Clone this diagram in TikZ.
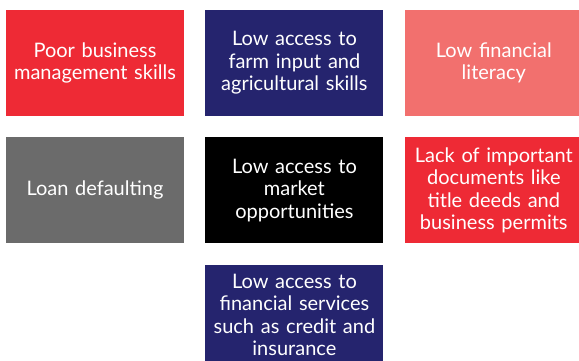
\documentclass[tikz,border=0pt]{standalone}
\usepackage{fontspec}
\setmainfont{Lato}
\usetikzlibrary{positioning}
\definecolor{cred}{HTML}{EE2A35}
\definecolor{cnavy}{HTML}{25246E}
\definecolor{csalmon}{HTML}{F2706E}
\definecolor{cgrey}{HTML}{6B6B6B}

\begin{document}
\begin{tikzpicture}[x=1pt,y=-1pt,
    box/.style={rectangle, fill=#1, text=white, minimum width=178pt, minimum height=106pt,
      text width=176pt, align=center, inner sep=0pt, font=\fontsize{20}{22.5}\selectfont},
    node distance=21pt]
    \clip (0,0) rectangle (579,361);
    \node[box=cred] (poor) at (95,63) {Poor business\\management skills};
    \node[box=cnavy, right=of poor] (farm) {Low access to\\farm input and\\agricultural skills};
    \node[box=csalmon, right=of farm] (literacy) {Low financial\\literacy};
    \node[box=cgrey, below=of poor] (loan) {Loan defaulting};
    \node[box=black, below=of farm] (market) {Low access to\\market\\opportunities};
    \node[box=cred, below=of literacy] (documents) {Lack of important\\documents like\\title deeds and\\business permits};
    \node[box=cnavy, minimum height=100pt, below=of market] (finance) {Low access to\\financial services\\such as credit and\\insurance};
\end{tikzpicture}
\end{document}
